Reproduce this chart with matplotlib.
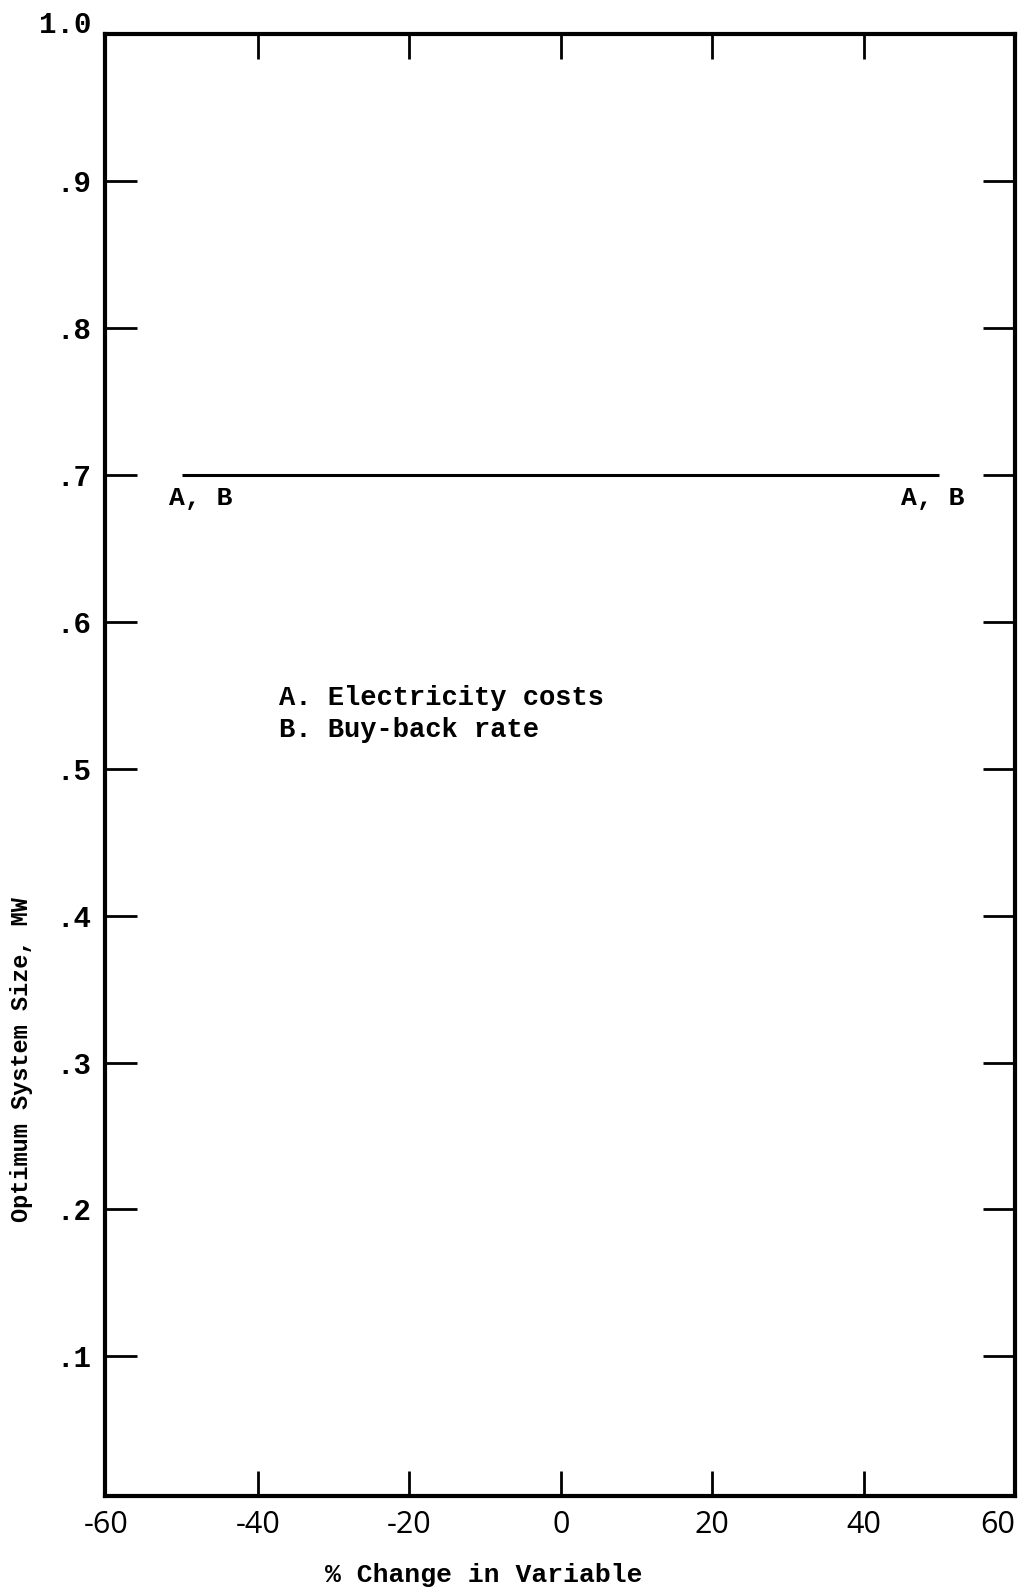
import matplotlib
matplotlib.use("Agg")
import matplotlib.pyplot as plt
from matplotlib.transforms import ScaledTranslation

# Data
x_ticks = [-60, -40, -20, 0, 20, 40, 60]
x_tick_labels = ["-60", "-40", "-20", "0", "20", "40", "60"]
y_ticks = [0.1, 0.2, 0.3, 0.4, 0.5, 0.6, 0.7, 0.8, 0.9, 1.0]
y_tick_labels = [".1", ".2", ".3", ".4", ".5", ".6", ".7", ".8", ".9", "1.0"]
line_x = [-50, 50]
line_y = [0.7, 0.7]
end_labels = ["A, B", "A, B"]
legend_lines = ["A. Electricity costs", "B. Buy-back rate"]

mono = "Liberation Mono"

fig = plt.figure(figsize=(10.24, 15.94), dpi=100)
ax = fig.add_axes([105/1024, 98/1594, 910/1024, 1462/1594])
ax.set_xlim(-60.2, 59.4)
ax.set_ylim(0.005, 1.0)

for s in ax.spines.values():
    s.set_linewidth(3.0)
    s.set_color("black")

ax.plot(line_x, line_y, color="black", lw=2.2, solid_capstyle="butt")

ax.text(-47.6, 0.684, end_labels[0], family=mono, fontsize=19,
        fontweight="bold", ha="center", va="center")
ax.text(49.2, 0.684, end_labels[1], family=mono, fontsize=19,
        fontweight="bold", ha="center", va="center")

ax.text(-37.2, 0.548, legend_lines[0], family=mono, fontsize=19.5,
        fontweight="bold", ha="left", va="center")
ax.text(-37.2, 0.526, legend_lines[1], family=mono, fontsize=19.5,
        fontweight="bold", ha="left", va="center")

ax.set_xticks(x_ticks)
ax.set_xticklabels(x_tick_labels, family="Open Sans", fontsize=22)
ax.get_xticklabels()[-1].set_horizontalalignment("right")
ax.set_yticks(y_ticks)
ax.set_yticklabels(y_tick_labels, family=mono, fontsize=21, fontweight="bold")

ax.tick_params(axis="x", direction="in", length=18, width=2.0, top=True,
               bottom=True, pad=10)
ax.tick_params(axis="y", direction="in", length=23, width=2.0, left=True,
               right=True, pad=10)

# hide tick marks that sit on the frame corners
for t in (ax.xaxis.get_major_ticks()[0], ax.xaxis.get_major_ticks()[-1],
          ax.yaxis.get_major_ticks()[-1]):
    t.tick1line.set_visible(False)
    t.tick2line.set_visible(False)

top_lbl = ax.get_yticklabels()[-1]
top_lbl.set_transform(top_lbl.get_transform()
                      + ScaledTranslation(0, 0.12, fig.dpi_scale_trans))

fig.text(22/1024, (1594-1060)/1594, "Optimum System Size, MW", family=mono,
         fontsize=17, fontweight="bold", rotation=90, ha="center", va="center")
fig.text(484/1024, (1594-1575)/1594, "% Change in Variable", family=mono,
         fontsize=19, fontweight="bold", ha="center", va="center")

fig.savefig("out.png", dpi=100)
